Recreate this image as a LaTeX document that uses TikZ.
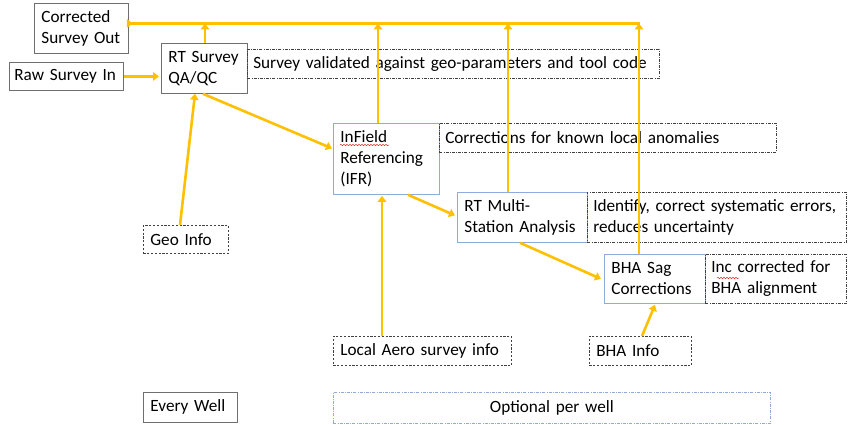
\documentclass[tikz,border=0pt]{standalone}
\usepackage{fontspec}
\setmainfont{Carlito}
\usetikzlibrary{arrows.meta,decorations.pathmorphing}

\definecolor{flow}{HTML}{FFC000}
\definecolor{edgegray}{HTML}{6F6F6F}
\definecolor{edgeblue}{HTML}{8FAADC}
\definecolor{squig}{HTML}{E03030}

\tikzset{
  base/.style={anchor=north west, inner xsep=7pt, inner ysep=0pt, align=left,
    font=\fontsize{17.2pt}{21pt}\selectfont, text=black},
  solidbox/.style={base, draw=edgegray, line width=0.8pt},
  bluebox/.style={base, draw=edgeblue, line width=0.8pt},
  notebox/.style={base, inner xsep=6pt, draw=black!75, line width=0.5pt,
    dash pattern=on 3pt off 1.3pt on 0.7pt off 1.3pt},
  inputbox/.style={base, draw=black!75, line width=0.7pt, dash pattern=on 2.2pt off 1.6pt},
  scopebox/.style={base, align=center, draw=edgeblue, line width=0.7pt,
    dash pattern=on 3pt off 1.3pt on 0.7pt off 1.3pt},
  flowline/.style={draw=flow, line width=2.6pt, line join=round,
    -{Triangle[length=6pt,width=8.5pt]}},
  flowbus/.style={draw=flow, line width=2.6pt, line join=round},
  spell/.style={draw=squig, line width=0.5pt,
    decorate, decoration={snake, amplitude=0.7pt, segment length=3pt}},
}

\begin{document}
\begin{tikzpicture}[x=1pt, y=-1pt]
  \useasboundingbox (0,0) rectangle (848,424);

  % main processing chain
  \node[solidbox, minimum width=94pt, minimum height=50pt, text width=80pt] (out) at (34,3) {Corrected\\Survey Out};
  \node[solidbox, inner xsep=5pt, minimum width=114pt, minimum height=28pt, text width=104pt] (raw) at (9,62) {Raw Survey In};
  \node[solidbox, minimum width=86pt, minimum height=50pt, text width=72pt] (qa) at (161,43) {RT Survey\\QA/QC};
  \node[bluebox, minimum width=106pt, minimum height=71pt, text width=92pt] (ifr) at (333,123) {InField\\Referencing\\(IFR)};
  \node[bluebox, minimum width=130pt, minimum height=50pt, text width=116pt] (msa) at (457,192) {RT Multi-\\Station Analysis};
  \node[bluebox, minimum width=101pt, minimum height=49pt, text width=87pt] (bha) at (604,254) {BHA Sag\\Corrections};

  % notes beside each stage
  \node[notebox, minimum width=412pt, minimum height=29pt, text width=400pt] (n1) at (247,49) {Survey validated against geo-parameters and tool code};
  \node[notebox, minimum width=337pt, minimum height=29pt, text width=325pt] (n2) at (439,123) {Corrections for known local anomalies};
  \node[notebox, minimum width=259pt, minimum height=50pt, text width=247pt] (n3) at (587,192) {Identify, correct systematic errors,\\reduces uncertainty};
  \node[notebox, minimum width=141pt, minimum height=49pt, text width=129pt] (n4) at (705,254) {Inc corrected for\\BHA alignment};

  % external inputs
  \node[inputbox, minimum width=85pt, minimum height=28pt, text width=71pt] (geo) at (143,225) {Geo Info};
  \node[inputbox, minimum width=178pt, minimum height=29pt, text width=164pt] (aero) at (333,336) {Local Aero survey info};
  \node[inputbox, minimum width=102pt, minimum height=29pt, text width=88pt] (bhai) at (589,336) {BHA Info};

  % legend
  \node[solidbox, minimum width=94pt, minimum height=30pt, text width=80pt] (every) at (143,392) {Every Well};
  \node[scopebox, minimum width=437pt, minimum height=31pt, text width=423pt] (opt) at (333,392) {Optional per well};

  % spell-check marks
  \draw[spell] (340,145) -- (389,145);
  \draw[spell] (717,278) -- (739,278);

  % output bus along the top
  \coordinate (busL) at ([xshift=5pt,yshift=5pt]out.east);
  \coordinate (v0) at ([xshift=44pt]qa.north west);
  \coordinate (v1) at ([xshift=45pt]ifr.north west);
  \coordinate (v2) at ([xshift=51pt]msa.north west);
  \coordinate (v3) at ([xshift=35pt]bha.north west);
  \draw[flowbus] ([xshift=1pt]v3 |- busL) -- ([xshift=-4pt]busL);
  \draw[flowline] ([xshift=-4pt]busL) -- ([xshift=-1pt]busL);
  \draw[flowline] (v0) -- (v0 |- busL);
  \draw[flowline] (v1) -- (v1 |- busL);
  \draw[flowline] (v2) -- (v2 |- busL);
  \draw[flowline] (v3) -- (v3 |- busL);

  % processing flow
  \draw[flowline, shorten >=2pt] (raw.east) -- (raw.east -| qa.west);
  \draw[flowline] ([xshift=42pt]qa.south west) -- ([xshift=-1pt,yshift=10.5pt]ifr.west);
  \draw[flowline] ([xshift=75pt]ifr.south west) -- ([xshift=-2pt,yshift=2pt]msa.west);
  \draw[flowline] ([xshift=63pt]msa.south west) -- ([xshift=-3pt]bha.west);

  % inputs feeding stages
  \draw[flowline] ([xshift=37pt]geo.north west) -- ([xshift=34pt]qa.south west);
  \draw[flowline] ([xshift=49pt]aero.north west) -- ([xshift=49pt,yshift=-1pt]ifr.south west);
  \draw[flowline] ([xshift=53pt]bhai.north west) -- ([xshift=51pt,yshift=-1pt]bha.south west);
\end{tikzpicture}
\end{document}
